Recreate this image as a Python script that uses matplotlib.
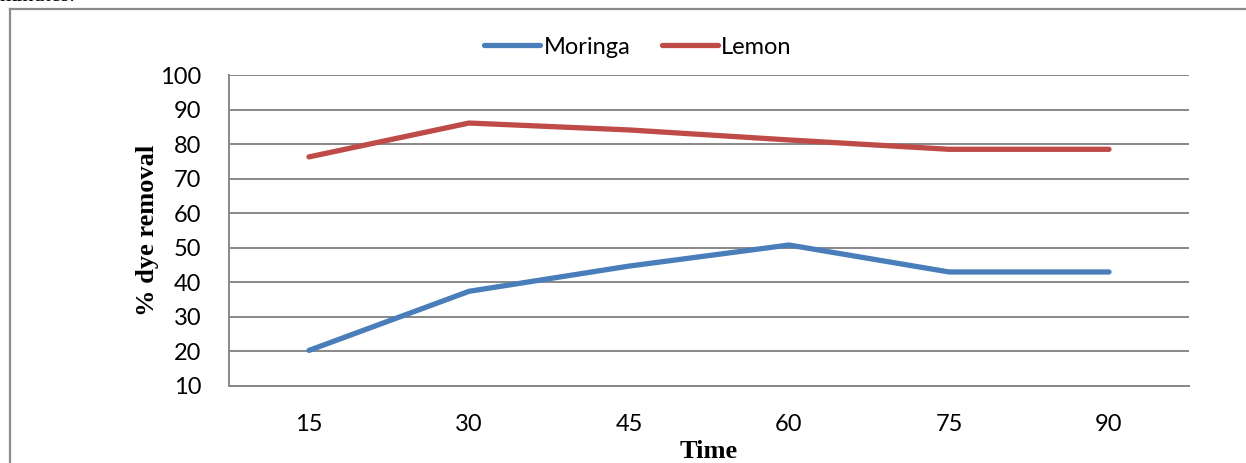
import matplotlib
matplotlib.use("Agg")
import matplotlib.pyplot as plt
from matplotlib.lines import Line2D

# Data
times = ["15", "30", "45", "60", "75", "90"]
moringa = [20.3, 37.4, 44.7, 50.8, 43.0, 43.0]
lemon = [76.3, 86.1, 84.1, 81.2, 78.5, 78.5]
y_ticks = [10, 20, 30, 40, 50, 60, 70, 80, 90, 100]

W, H = 1246, 463
fig = plt.figure(figsize=(W / 100, H / 100), dpi=100)

# outer frame of the embedded chart (only left and top edges are on the page)
frame_x, frame_y = 9.5 / W, 1 - 8.5 / H
fig.lines.append(Line2D([frame_x, frame_x], [0, frame_y], transform=fig.transFigure,
                        color="#8c8c8c", linewidth=1.6))
fig.lines.append(Line2D([frame_x, 1], [frame_y, frame_y], transform=fig.transFigure,
                        color="#8c8c8c", linewidth=1.6))

# cut-off line of document text above the chart
fig.text(0.0, 1 - 1 / H, "minutes.", fontsize=16, family="Liberation Serif",
         va="baseline", ha="left")

ax = fig.add_axes([229 / W, 1 - 386 / H, (1189 - 229) / W, (386 - 75) / H])

x = range(len(times))
ax.plot(x, moringa, color="#4a7ebb", linewidth=3.8, solid_capstyle="round",
        solid_joinstyle="round", label="Moringa", zorder=3)
ax.plot(x, lemon, color="#be4b48", linewidth=3.8, solid_capstyle="round",
        solid_joinstyle="round", label="Lemon", zorder=3)

ax.set_xlim(-0.5, len(times) - 0.5)
ax.set_ylim(10, 100)
ax.set_yticks(y_ticks)
ax.set_xticks(list(x))
ax.set_xticklabels(times)
ax.grid(axis="y", color="#888888", linewidth=1.4)
ax.set_axisbelow(True)

for side in ["top", "right"]:
    ax.spines[side].set_visible(False)
for side in ["left", "bottom"]:
    ax.spines[side].set_color("#888888")
    ax.spines[side].set_linewidth(1.4)

ax.tick_params(axis="both", length=0, labelsize=17)
ax.tick_params(axis="y", pad=20)
ax.tick_params(axis="x", pad=20)
for lbl in ax.get_xticklabels() + ax.get_yticklabels():
    lbl.set_family("Lato")

ax.set_xlabel("Time", fontsize=19, fontweight="bold", family="Liberation Serif",
              labelpad=4)
ax.set_ylabel("% dye removal", fontsize=19, fontweight="bold",
              family="Liberation Serif", labelpad=1)

leg = ax.legend(loc="center", bbox_to_anchor=(638 / W, 1 - 47 / H),
                bbox_transform=fig.transFigure, ncol=2, frameon=False,
                prop={"family": "Lato", "size": 17}, handlelength=2.35,
                handletextpad=0.15, columnspacing=1.35)

fig.savefig("out.png", dpi=100)
